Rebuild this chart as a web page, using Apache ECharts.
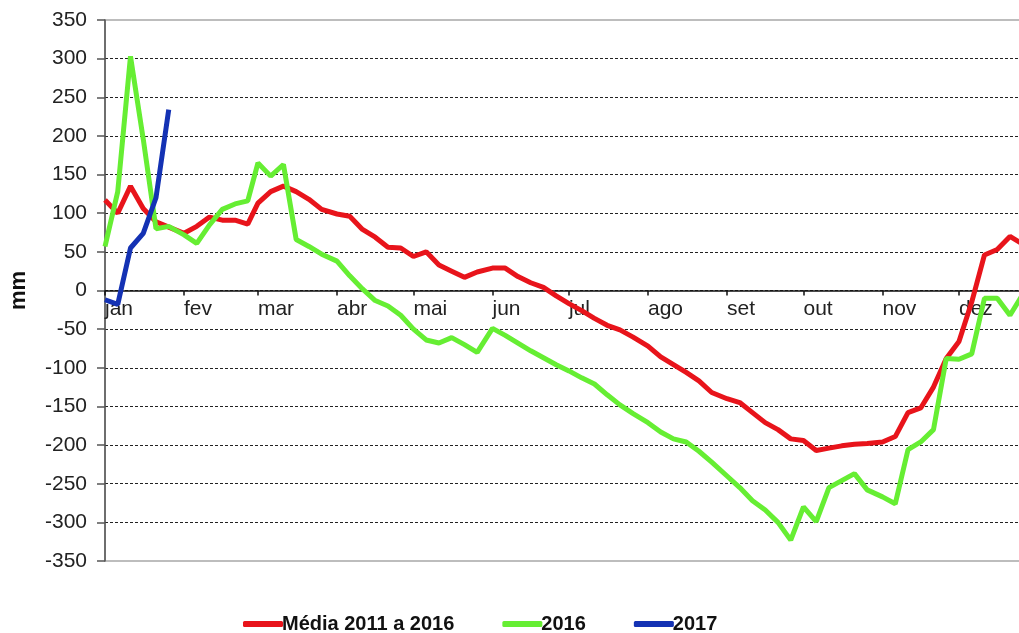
<!DOCTYPE html>
<html>
<head>
<meta charset="utf-8">
<script src="https://cdn.jsdelivr.net/npm/echarts@6/dist/echarts.min.js"></script>
<style>
html,body{margin:0;padding:0;background:#fff;}
#chart{width:1019px;height:633px;}
</style>
</head>
<body>
<div id="chart"></div>
<script>
// Month tick labels and first day of each month (day of year, 2016)
const monthNames = ['jan','fev','mar','abr','mai','jun','jul','ago','set','out','nov','dez'];
const monthStart = [0,31,60,91,121,152,182,213,244,274,305,335];
// pentads: 6 per month, starting at day 0,5,10,15,20,25 of each month
const pentadOffsets = [0,5,10,15,20,25];

const seriesNames = ['Média 2011 a 2016','2016','2017'];

const media = [117,100,135,106,89,82, 74,83,95,91,91,86, 113,128,135,128,118,105,
  99,96,79,69,56,55, 44,50,33,25,17,24, 29,29,18,10,4,-7,
  -17,-26,-36,-45,-51,-60, -72,-86,-96,-106,-117,-132, -140,-145,-158,-171,-180,-192,
  -194,-207,-204,-201,-199,-198, -196,-189,-158,-152,-125,-88, -66,-15,46,53,70,60];

const y2016 = [57,128,303,196,80,83, 72,61,85,105,112,116, 165,148,163,66,57,47,
  38,19,2,-13,-20,-32, -50,-64,-68,-61,-70,-80, -49,-58,-68,-78,-87,-96,
  -104,-113,-121,-135,-148,-159, -171,-183,-192,-196,-208,-222, -240,-255,-272,-284,-300,-323,
  -280,-299,-255,-246,-237,-258, -267,-276,-206,-196,-180,-88, -89,-82,-10,-10,-32,-5];

const y2017 = [-12,-18,55,74,120,234];

const pentadDays = [];
monthStart.forEach(s => pentadOffsets.forEach(k => pentadDays.push(s + k)));

function pairs(vals){ return vals.map((v,i) => [pentadDays[i], v]); }

const chart = echarts.init(document.getElementById('chart'));
const font = 'Liberation Sans, Arial, sans-serif';
const gridTop = 20, gridBottom = 72, H = 633;
const plotH = H - gridTop - gridBottom;
chart.setOption({
  backgroundColor: '#ffffff',
  animation: false,
  grid: {left: 105, right: -19, top: gridTop, bottom: gridBottom, outerBoundsMode: 'none', containLabel: false,
    show: true, borderColor: '#a8a8a8', borderWidth: 1.5, backgroundColor: 'transparent'},
  legend: {
    data: seriesNames,
    left: 238, top: 609,
    itemWidth: 40, itemHeight: 6, itemGap: 48,
    icon: 'roundRect',
    textStyle: {fontFamily: font, fontSize: 20, fontWeight: 'bold', color: '#111', padding: [0,0,0,-6]}
  },
  xAxis: {
    type: 'value', min: 0, max: 366,
    position: 'bottom', offset: -plotH / 2,
    axisLine: {show: true, onZero: false, lineStyle: {color: '#111', width: 1.5}},
    axisTick: {show: true, customValues: monthStart, length: 5, lineStyle: {color: '#111', width: 1.5}},
    axisLabel: {show: true, customValues: monthStart, align: 'left', margin: 8,
      fontFamily: font, fontSize: 21, color: '#222',
      formatter: v => monthNames[monthStart.indexOf(v)] || ''},
    splitLine: {show: false}
  },
  yAxis: {
    type: 'value', min: -350, max: 350, interval: 50,
    name: 'mm', nameLocation: 'middle', nameGap: 75, nameRotate: 90,
    nameTextStyle: {fontFamily: font, fontSize: 22, fontWeight: 'bold', color: '#111'},
    axisLine: {show: true, lineStyle: {color: '#555', width: 1.5}},
    axisTick: {show: true, length: 8, lineStyle: {color: '#555', width: 1.5}},
    axisLabel: {margin: 18, fontFamily: font, fontSize: 21, color: '#222'},
    splitLine: {show: true, showMinLine: false, showMaxLine: false, lineStyle: {color: '#222', width: 1, type: [3,2]}}
  },
  series: [
    {name: seriesNames[0], type: 'line', data: pairs(media), showSymbol: false, color: '#e8141b', lineStyle: {width: 5, color: '#e8141b'}},
    {name: seriesNames[1], type: 'line', data: pairs(y2016), showSymbol: false, color: '#66ee33', lineStyle: {width: 5, color: '#66ee33'}},
    {name: seriesNames[2], type: 'line', data: pairs(y2017), showSymbol: false, color: '#1432b4', lineStyle: {width: 5, color: '#1432b4'}}
  ]
});
</script>
</body>
</html>
